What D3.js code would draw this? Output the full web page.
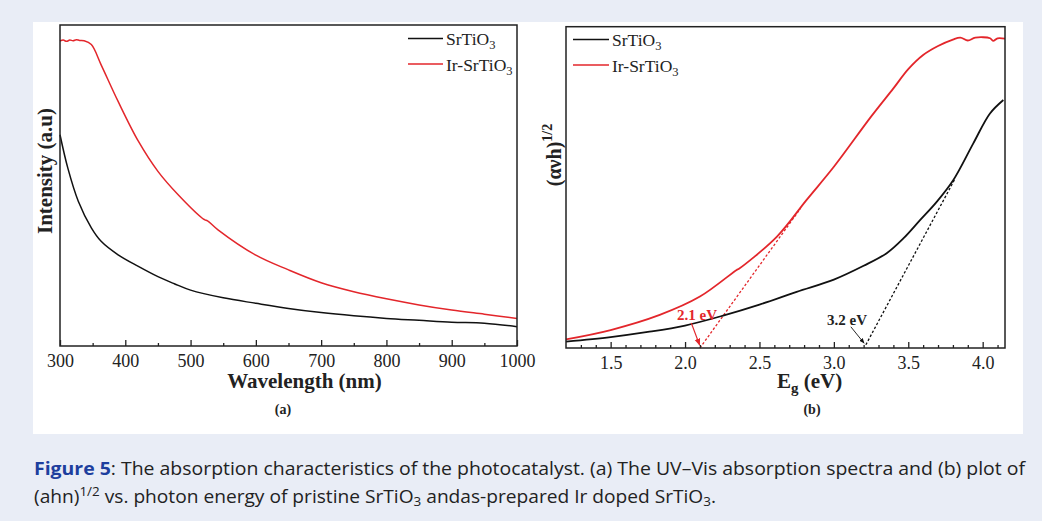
<!DOCTYPE html>
<html>
<head>
<meta charset="utf-8">
<script src="https://cdn.jsdelivr.net/npm/d3@7"></script>
<style>
  body { margin: 0; background: #e9edf6; }
  svg { display: block; }
  .serif { font-family: "Liberation Serif", "Times New Roman", serif; }
</style>
</head>
<body>
<svg id="fig" width="1042" height="521"></svg>
<script>
// panel (a): UV-Vis absorption spectra
var srWave = [300, 312, 328, 348, 363, 389, 420, 450, 475, 500, 550, 600, 650, 700, 750, 800, 850, 900, 950, 1000];
var srAbs  = [0.658, 0.554, 0.451, 0.368, 0.326, 0.284, 0.248, 0.216, 0.194, 0.174, 0.150, 0.133, 0.117, 0.104, 0.094, 0.086, 0.080, 0.074, 0.071, 0.060];
var irWave = [300, 305, 310, 315, 320, 325, 330, 337, 348, 363, 389, 420, 450, 481, 518, 522, 526, 542, 600, 650, 700, 750, 800, 850, 900, 950, 1000];
var irAbs  = [0.950, 0.953, 0.949, 0.953, 0.951, 0.954, 0.952, 0.951, 0.939, 0.876, 0.762, 0.638, 0.544, 0.471, 0.398, 0.393, 0.390, 0.362, 0.283, 0.237, 0.197, 0.169, 0.147, 0.128, 0.112, 0.099, 0.086];

// panel (b): Tauc plot
var srEv    = [1.2, 1.5, 1.75, 2.0, 2.25, 2.5, 2.75, 3.0, 3.2, 3.355, 3.467, 3.579, 3.691, 3.803, 3.937, 4.049, 4.139];
var srTauc  = [0.020, 0.034, 0.050, 0.070, 0.100, 0.135, 0.175, 0.213, 0.256, 0.295, 0.341, 0.398, 0.455, 0.523, 0.637, 0.730, 0.772];
var irEv    = [1.2, 1.5, 1.83, 2.1, 2.347, 2.36, 2.616, 2.817, 3.0, 3.25, 3.4, 3.5, 3.6, 3.7, 3.8, 3.85, 3.9, 3.95, 4.05, 4.07, 4.1, 4.15];
var irTauc  = [0.027, 0.056, 0.103, 0.160, 0.243, 0.246, 0.346, 0.461, 0.564, 0.720, 0.808, 0.868, 0.912, 0.940, 0.960, 0.966, 0.957, 0.966, 0.964, 0.956, 0.964, 0.963];

// band gap extrapolations and arrows
var irTangent = [[2.10, 0.0], [2.777, 0.435]];
var srTangent = [[3.215, 0.01], [3.81, 0.523]];
var irArrow = [[2.042, 0.078], [2.098, 0.009]];
var srArrow = [[3.114, 0.066], [3.203, 0.015]];

var seriesNames = ["SrTiO", "Ir-SrTiO"];
var seriesColors = ["#111111", "#e3262b"];

var svg = d3.select("#fig");
svg.append("rect").attr("width", 1042).attr("height", 521).attr("fill", "#e9edf6");
svg.append("rect").attr("x", 33).attr("y", 22).attr("width", 990).attr("height", 412).attr("fill", "#ffffff");

var defs = svg.append("defs");
[["arRed", "#e3262b"], ["arBlack", "#111111"]].forEach(function (m) {
    defs.append("marker")
        .attr("id", m[0])
        .attr("viewBox", "0 -5 10 10")
        .attr("refX", 9)
        .attr("refY", 0)
        .attr("markerWidth", 6)
        .attr("markerHeight", 6)
        .attr("orient", "auto")
        .append("path")
        .attr("d", "M0,-4L10,0L0,4Z")
        .attr("fill", m[1]);
});

function drawFrame(g, x0, y0, x1, y1) {
    g.append("rect")
        .attr("x", x0).attr("y", y0)
        .attr("width", x1 - x0).attr("height", y1 - y0)
        .attr("fill", "none").attr("stroke", "#222").attr("stroke-width", 1.5);
}

function bottomAxis(g, x, y1, major, minor, fmt) {
    var ax = g.append("g").attr("transform", "translate(0," + y1 + ")").attr("class", "serif");
    ax.call(d3.axisBottom(x).tickValues(minor).tickSize(-3).tickFormat(""));
    ax.select(".domain").remove();
    var ax2 = g.append("g").attr("transform", "translate(0," + y1 + ")").attr("class", "serif");
    ax2.call(d3.axisBottom(x).tickValues(major).tickSize(-6).tickPadding(8).tickFormat(fmt));
    ax2.select(".domain").remove();
    ax2.selectAll("text").attr("font-size", 18).attr("fill", "#222").attr("font-family", "Liberation Serif");
    g.selectAll(".tick line").attr("stroke", "#222").attr("stroke-width", 1.3);
}

function legend(g, x0, x1, yFirst, gap) {
    seriesNames.forEach(function (name, i) {
        var yy = yFirst + i * gap;
        g.append("line").attr("x1", x0).attr("x2", x1).attr("y1", yy).attr("y2", yy)
            .attr("stroke", seriesColors[i]).attr("stroke-width", 1.5);
        var t = g.append("text").attr("class", "serif").attr("x", x1 + 3).attr("y", yy + 6.5)
            .attr("font-size", 17.5).attr("fill", "#222");
        t.append("tspan").text(name);
        t.append("tspan").attr("font-size", 12.5).attr("dy", 4).text("3");
    });
}

// ---------- panel (a)
var ga = svg.append("g");
var xa = d3.scaleLinear().domain([300, 1000]).range([60, 517]);
var ya = d3.scaleLinear().domain([0, 1]).range([346, 25]);

var lineA = d3.line().x(function (d) { return xa(d[0]); }).y(function (d) { return ya(d[1]); }).curve(d3.curveCatmullRom.alpha(0.5));
ga.append("path").datum(irWave.map(function (w, i) { return [w, irAbs[i]]; }))
    .attr("d", lineA).attr("fill", "none").attr("stroke", seriesColors[1]).attr("stroke-width", 1.5);
ga.append("path").datum(srWave.map(function (w, i) { return [w, srAbs[i]]; }))
    .attr("d", lineA).attr("fill", "none").attr("stroke", seriesColors[0]).attr("stroke-width", 1.5);

drawFrame(ga, 60, 25, 517, 346);
bottomAxis(ga, xa, 346, d3.range(300, 1001, 100), d3.range(350, 1000, 100), d3.format("d"));
legend(ga, 408, 443, 38.5, 25.5);

ga.append("text").attr("class", "serif").attr("x", 304.5).attr("y", 388)
    .attr("text-anchor", "middle").attr("font-size", 21).attr("font-weight", "bold").attr("fill", "#222")
    .text("Wavelength (nm)");
ga.append("text").attr("class", "serif").attr("transform", "translate(52,171) rotate(-90)")
    .attr("text-anchor", "middle").attr("font-size", 21).attr("font-weight", "bold").attr("fill", "#222")
    .text("Intensity (a.u)");
ga.append("text").attr("class", "serif").attr("x", 283).attr("y", 414)
    .attr("text-anchor", "middle").attr("font-size", 14).attr("font-weight", "bold").attr("fill", "#222")
    .text("(a)");

// ---------- panel (b)
var gb = svg.append("g");
var xb = d3.scaleLinear().domain([1.2, 4.15]).range([566, 1005]);
var yb = d3.scaleLinear().domain([0, 1]).range([348, 26.7]);

var lineB = d3.line().x(function (d) { return xb(d[0]); }).y(function (d) { return yb(d[1]); });
gb.append("path").datum(irTangent).attr("d", lineB).attr("fill", "none")
    .attr("stroke", seriesColors[1]).attr("stroke-width", 1.3).attr("stroke-dasharray", "2.5,2");
gb.append("path").datum(srTangent).attr("d", lineB).attr("fill", "none")
    .attr("stroke", seriesColors[0]).attr("stroke-width", 1.3).attr("stroke-dasharray", "2.5,2");

var curveB = d3.line().x(function (d) { return xb(d[0]); }).y(function (d) { return yb(d[1]); }).curve(d3.curveCatmullRom.alpha(0.5));
gb.append("path").datum(irEv.map(function (e, i) { return [e, irTauc[i]]; }))
    .attr("d", curveB).attr("fill", "none").attr("stroke", seriesColors[1]).attr("stroke-width", 1.8);
gb.append("path").datum(srEv.map(function (e, i) { return [e, srTauc[i]]; }))
    .attr("d", curveB).attr("fill", "none").attr("stroke", seriesColors[0]).attr("stroke-width", 1.8);

gb.append("path").datum(irArrow).attr("d", lineB).attr("stroke", seriesColors[1])
    .attr("stroke-width", 1.2).attr("marker-end", "url(#arRed)");
gb.append("path").datum(srArrow).attr("d", lineB).attr("stroke", seriesColors[0])
    .attr("stroke-width", 0.9).attr("marker-end", "url(#arBlack)");

gb.append("text").attr("class", "serif").attr("x", 677).attr("y", 319.5)
    .attr("font-size", 15).attr("font-weight", "bold").attr("fill", seriesColors[1]).text("2.1 eV");
gb.append("text").attr("class", "serif").attr("x", 827).attr("y", 325)
    .attr("font-size", 15).attr("font-weight", "bold").attr("fill", "#222").text("3.2 eV");

drawFrame(gb, 566, 26.7, 1005, 348);
var minorEv = d3.range(13, 42, 1).filter(function (v) { return v % 5 !== 0; }).map(function (v) { return v / 10; });
bottomAxis(gb, xb, 348, d3.range(1.5, 4.01, 0.5), minorEv, d3.format(".1f"));
legend(gb, 573, 609, 39.5, 25.5);

var eg = gb.append("text").attr("class", "serif").attr("x", 777).attr("y", 388)
    .attr("font-size", 21).attr("font-weight", "bold").attr("fill", "#222");
eg.append("tspan").text("E");
eg.append("tspan").attr("font-size", 15).attr("dy", 5).text("g");
eg.append("tspan").attr("dy", -5).text(" (eV)");

var yl = gb.append("text").attr("class", "serif").attr("transform", "translate(561,155) rotate(-90)")
    .attr("text-anchor", "middle").attr("font-size", 20).attr("font-weight", "bold").attr("fill", "#222");
yl.append("tspan").text("(\u03b1\u03bdh)");
yl.append("tspan").attr("font-size", 14).attr("dy", -9).text("1/2");

gb.append("text").attr("class", "serif").attr("x", 812).attr("y", 414)
    .attr("text-anchor", "middle").attr("font-size", 14).attr("font-weight", "bold").attr("fill", "#222")
    .text("(b)");

// ---------- caption
var cap = svg.append("g").attr("font-family", "Open Sans").attr("font-size", 18.5).attr("fill", "#222");
var c1 = cap.append("text").attr("x", 34).attr("y", 475)
    .attr("textLength", 991).attr("lengthAdjust", "spacingAndGlyphs");
c1.append("tspan").attr("font-weight", "bold").attr("fill", "#1e3f9e").text("Figure 5");
c1.append("tspan").text(": The absorption characteristics of the photocatalyst.  (a) The UV\u2013Vis absorption spectra and (b) plot of");

var c2 = cap.append("text").attr("x", 34).attr("y", 503)
    .attr("textLength", 682).attr("lengthAdjust", "spacingAndGlyphs");
c2.append("tspan").text("(ahn)");
c2.append("tspan").attr("font-size", 13).attr("dy", -7).text("1/2");
c2.append("tspan").attr("dy", 7).text(" vs. photon energy of pristine SrTiO");
c2.append("tspan").attr("font-size", 13).attr("dy", 3).text("3");
c2.append("tspan").attr("dy", -3).text(" andas-prepared Ir doped SrTiO");
c2.append("tspan").attr("font-size", 13).attr("dy", 3).text("3");
c2.append("tspan").attr("dy", -3).text(".");
</script>
</body>
</html>
